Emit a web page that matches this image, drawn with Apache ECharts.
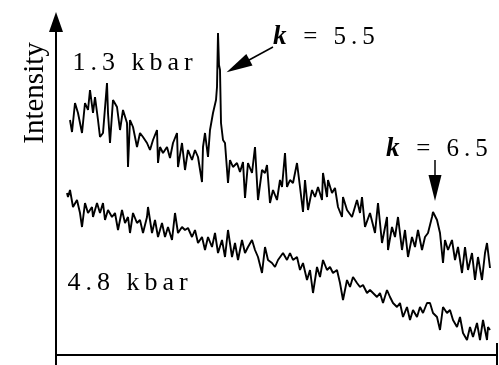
<!DOCTYPE html>
<html>
<head>
<meta charset="utf-8">
<script src="https://cdn.jsdelivr.net/npm/echarts@6/dist/echarts.min.js"></script>
<style>
  html, body { margin: 0; padding: 0; background: #fff; }
  #main { width: 499px; height: 365px; }
</style>
</head>
<body>
<div id="main"></div>
<script>
// 1.3 kbar trace, [channel, intensity]
var trace13 = [
  [14,235],[16,223],[19,252],[22,242],[26,222],[29,252],[32,245],[34,265],[37,242],[39,258],
  [42,235],[44,218],[47,222],[51,272],[52,242],[54,212],[57,255],[61,248],[64,225],[67,245],
  [71,232],[72,188],[74,235],[77,228],[81,208],[84,222],[87,218],[91,212],[94,205],[97,215],
  [101,225],[102,192],[104,208],[107,202],[111,208],[114,197],[117,212],[121,222],[122,188],[126,212],
  [129,185],[132,205],[136,195],[139,205],[142,198],[146,173],[147,208],[149,222],[152,198],[154,225],
  [157,242],[160,255],[161,268],[162,322],[163,290],[164,285],[165,232],[167,215],[169,212],[172,172],
  [174,195],[177,188],[181,192],[184,183],[187,193],[189,157],[192,192],[196,182],[199,208],[202,155],
  [206,185],[209,182],[211,190],[214,152],[217,165],[221,155],[224,175],[226,168],[229,202],[231,168],
  [234,175],[237,172],[241,192],[244,168],[247,143],[249,175],[252,145],[256,165],[259,158],[262,168],
  [266,155],[267,182],[271,158],[272,175],[276,162],[279,167],[282,148],[286,138],[287,158],[291,145],
  [296,138],[301,155],[304,142],[306,158],[309,128],[314,142],[319,122],[322,152],[326,112],[331,138],
  [332,105],[336,128],[339,118],[342,138],[346,105],[349,125],[352,98],[356,118],[359,108],[362,125],
  [366,105],[369,118],[372,122],[376,138],[377,143],[381,135],[384,122],[387,92],[389,115],[392,105],
  [396,115],[399,95],[402,108],[406,82],[409,108],[412,85],[416,102],[419,75],[422,98],[426,75],
  [429,102],[431,112],[434,87]
];

// 4.8 kbar trace
var trace48 = [
  [11,162],[12,158],[14,165],[17,148],[21,155],[24,142],[26,128],[29,152],[32,142],[36,148],
  [37,138],[41,152],[44,142],[47,152],[49,135],[52,145],[56,138],[59,142],[62,125],[66,145],
  [69,132],[72,138],[74,122],[77,142],[81,132],[84,135],[87,122],[91,138],[92,148],[96,122],
  [99,135],[102,118],[106,132],[109,118],[112,128],[116,115],[119,142],[122,122],[126,128],[129,125],
  [132,127],[136,118],[139,125],[142,112],[146,118],[149,105],[152,118],[156,108],[159,122],[162,102],
  [166,115],[169,98],[172,125],[176,98],[179,112],[182,95],[186,115],[189,102],[192,108],[196,115],
  [199,105],[202,98],[206,82],[209,108],[212,95],[216,92],[219,88],[222,95],[227,102],[231,95],
  [234,102],[237,95],[241,98],[244,85],[247,92],[251,75],[254,85],[257,62],[261,88],[264,78],
  [267,95],[271,85],[274,88],[277,82],[281,85],[284,72],[287,55],[291,75],[294,68],[297,78],
  [301,72],[304,68],[307,70],[311,62],[314,65],[317,62],[321,58],[324,62],[327,52],[331,65],
  [334,58],[337,52],[341,48],[344,52],[347,38],[351,48],[354,35],[357,45],[361,38],[364,48],
  [367,42],[371,52],[374,52],[377,42],[381,38],[384,25],[387,48],[391,42],[394,45],[397,35],
  [401,28],[404,38],[407,22],[411,15],[414,28],[417,18],[421,32],[424,15],[427,35],[431,15],
  [432,28],[434,25]
];

var xRange = [0, 441];
var yRange = [-10, 333];

// the label font puts the letters wide apart: one rich token per letter
function spaced(s, token) {
  return s.split('').map(function (c) {
    return '{' + token + '|' + c + '}';
  }).join('');
}

var myChart = echarts.init(document.getElementById('main'));
var serif = 'Liberation Serif';

function label(text, x, y, size) {
  return {
    type: 'text',
    x: x, y: y,
    style: {
      text: text,
      fontFamily: serif,
      fontSize: size,
      fill: '#000',
      verticalAlign: 'middle',
      rich: {
        k: { fontFamily: serif, fontSize: size + 2, fontStyle: 'italic', fontWeight: 'bold', fill: '#000', padding: [0, 3, 0, 0] },
        t: { fontFamily: serif, fontSize: size, fill: '#000', padding: [0, 2.5, 0, 2.5] }
      }
    }
  };
}

var option = {
  animation: false,
  backgroundColor: '#fff',
  grid: {
    left: 56,
    right: 2,
    top: 22,
    bottom: 0
  },
  xAxis: {
    type: 'value',
    min: xRange[0],
    max: xRange[1],
    interval: xRange[1],
    axisLine: { onZero: true, lineStyle: { color: '#000', width: 2 } },
    axisTick: { show: true, length: 10, lineStyle: { color: '#000', width: 2 } },
    axisLabel: { show: false },
    splitLine: { show: false }
  },
  yAxis: {
    type: 'value',
    min: yRange[0],
    max: yRange[1],
    axisLine: {
      show: true,
      symbol: ['none', 'triangle'],
      symbolSize: [14, 20],
      lineStyle: { color: '#000', width: 2 }
    },
    axisTick: { show: false },
    axisLabel: { show: false },
    splitLine: { show: false }
  },
  series: [
    {
      type: 'line',
      data: trace13,
      showSymbol: false,
      lineStyle: { color: '#000', width: 1.9 },
      markLine: {
        silent: true,
        symbol: ['none', 'triangle'],
        symbolSize: [13, 26],
        label: { show: false },
        lineStyle: { color: '#000', width: 1.5, type: 'solid' },
        data: [
          [{ coord: [217, 308] }, { coord: [182, 289] }],
          [{ coord: [379, 195] }, { coord: [379, 167] }]
        ]
      }
    },
    {
      type: 'line',
      data: trace48,
      showSymbol: false,
      lineStyle: { color: '#000', width: 1.9 },
      // right end tick of the x axis reaches above the line too
      markLine: {
        silent: true,
        symbol: 'none',
        label: { show: false },
        lineStyle: { color: '#000', width: 2, type: 'solid' },
        data: [
          [{ coord: [xRange[1], 0] }, { coord: [xRange[1], 12] }]
        ]
      }
    }
  ],
  graphic: [
    {
      type: 'text',
      x: 35, y: 93,
      rotation: Math.PI / 2,
      style: {
        text: 'Intensity',
        fontFamily: serif,
        fontSize: 29,
        fill: '#000',
        align: 'center',
        verticalAlign: 'middle'
      }
    },
    label(spaced('1.3 kbar', 't'), 70, 63, 26),
    label(spaced('4.8 kbar', 't'), 65, 283, 26),
    label('{k|k}' + spaced(' = 5.5', 't'), 273, 37, 25),
    label('{k|k}' + spaced(' = 6.5', 't'), 386, 149, 25)
  ]
};

option && myChart.setOption(option);
window.addEventListener('resize', function () {
  myChart.resize();
});
</script>
</body>
</html>
